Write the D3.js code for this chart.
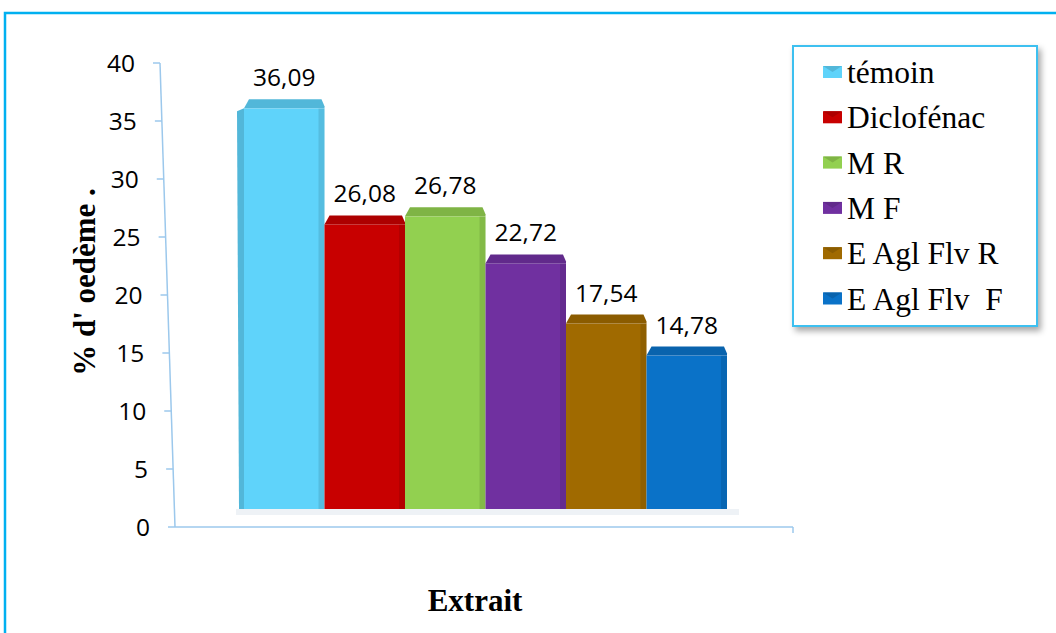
<!DOCTYPE html>
<html>
<head>
<meta charset="utf-8">
<script src="https://cdn.jsdelivr.net/npm/d3@7"></script>
<style>
  body { margin: 0; background: #fff; }
</style>
</head>
<body>
<div id="chart"></div>
<script>
// Data
const categories = ["témoin", "Diclofénac", "M R", "M F", "E Agl Flv R", "E Agl Flv  F"];
const values = [36.09, 26.08, 26.78, 22.72, 17.54, 14.78];
const labels = ["36,09", "26,08", "26,78", "22,72", "17,54", "14,78"];
const colors = ["#5fd3fa", "#c80000", "#92d050", "#7030a0", "#a06a00", "#0a72c8"];
const yTicks = [0, 5, 10, 15, 20, 25, 30, 35, 40];

const W = 1056, H = 633;

const svg = d3.select("#chart")
    .append("svg")
    .attr("width", W)
    .attr("height", H);

// outer frame
svg.append("rect")
    .attr("x", 5).attr("y", 13)
    .attr("width", 1100).attr("height", 700)
    .attr("fill", "none")
    .attr("stroke", "#00b0f0")
    .attr("stroke-width", 2.5);

// Scales
const y = d3.scaleLinear().domain([0, 40]).range([527, 63]);
const x = d3.scaleBand().domain(categories).range([244, 727]).padding(0);
const color = d3.scaleOrdinal().domain(categories).range(colors);

// slanted (perspective) y axis: x position for a value
const axisX = d3.scaleLinear().domain([40, 0]).range([160, 175]);
const axisColor = "#9cc8ec";

const axis = svg.append("g");
axis.append("line")
    .attr("x1", axisX(40)).attr("y1", y(40))
    .attr("x2", axisX(0)).attr("y2", y(0))
    .attr("stroke", axisColor).attr("stroke-width", 1.5);

const tick = axis.selectAll("g.tick")
    .data(yTicks)
    .enter().append("g")
    .attr("class", "tick");

tick.append("line")
    .attr("x1", d => axisX(d) - 7).attr("x2", d => axisX(d))
    .attr("y1", d => y(d)).attr("y2", d => y(d))
    .attr("stroke", axisColor).attr("stroke-width", 1.5);

tick.append("text")
    .attr("x", d => axisX(d) - 25)
    .attr("y", d => y(d))
    .attr("dy", "0.35em")
    .attr("text-anchor", "end")
    .attr("font-family", "Open Sans, sans-serif")
    .attr("font-size", 24.5)
    .attr("fill", "#000")
    .text(d => d);

// x axis
axis.append("line")
    .attr("x1", axisX(0)).attr("x2", 793)
    .attr("y1", y(0)).attr("y2", y(0))
    .attr("stroke", axisColor).attr("stroke-width", 1.5);
axis.append("line")
    .attr("x1", 793).attr("x2", 793)
    .attr("y1", y(0)).attr("y2", y(0) + 6)
    .attr("stroke", axisColor).attr("stroke-width", 1.5);

// floor shadow
const floorY = y(0) - 18;
svg.append("rect")
    .attr("x", x.range()[0] - 8).attr("y", floorY)
    .attr("width", x.range()[1] - x.range()[0] + 20).attr("height", 6)
    .attr("fill", "#eef2f6");

// bars with a simple 3D top
const depth = 9;
const bar = svg.append("g").selectAll("g.bar")
    .data(categories)
    .enter().append("g")
    .attr("class", "bar");

bar.append("rect")
    .attr("x", d => x(d))
    .attr("y", (d, i) => y(values[i]))
    .attr("width", x.bandwidth())
    .attr("height", (d, i) => floorY - y(values[i]))
    .attr("fill", d => color(d));

// right shading strip
bar.append("rect")
    .attr("x", d => x(d) + x.bandwidth() - 6)
    .attr("y", (d, i) => y(values[i]))
    .attr("width", 6)
    .attr("height", (d, i) => floorY - y(values[i]))
    .attr("fill", "#000")
    .attr("opacity", 0.1);

// top face
bar.append("path")
    .attr("d", (d, i) => {
        const x0 = x(d), x1 = x(d) + x.bandwidth(), t = y(values[i]);
        return `M${x0},${t} L${x0 + 5},${t - depth} L${x1 - 3},${t - depth} L${x1},${t - 2} L${x1},${t} Z`;
    })
    .attr("fill", d => d3.color(color(d)).darker(0.4));

// left side face for the first bar
svg.append("path")
    .attr("d", () => {
        const d = categories[0], t = y(values[0]);
        return `M${x(d)},${t} L${x(d) - 7},${t + 3} L${x(d) - 5},${floorY} L${x(d)},${floorY} Z`;
    })
    .attr("fill", d3.color(colors[0]).darker(0.4));

// value labels
bar.append("text")
    .attr("x", d => x(d) + x.bandwidth() / 2)
    .attr("y", (d, i) => y(values[i]) - 22)
    .attr("text-anchor", "middle")
    .attr("font-family", "Open Sans, sans-serif")
    .attr("font-size", 24.5)
    .attr("fill", "#000")
    .text((d, i) => labels[i]);

// axis titles
svg.append("text")
    .attr("transform", "translate(95,282) rotate(-90)")
    .attr("text-anchor", "middle")
    .attr("font-family", "Liberation Serif, Times New Roman, serif")
    .attr("font-weight", "bold")
    .attr("font-size", 31)
    .text("% d' oedème .");

svg.append("text")
    .attr("x", 475).attr("y", 611)
    .attr("text-anchor", "middle")
    .attr("font-family", "Liberation Serif, Times New Roman, serif")
    .attr("font-weight", "bold")
    .attr("font-size", 31)
    .text("Extrait");

// legend
const defs = svg.append("defs");
const filter = defs.append("filter").attr("id", "shadow")
    .attr("x", "-10%").attr("y", "-10%").attr("width", "130%").attr("height", "130%");
filter.append("feDropShadow")
    .attr("dx", 3).attr("dy", 4).attr("stdDeviation", 3)
    .attr("flood-color", "#000").attr("flood-opacity", 0.35);

const legend = svg.append("g");
legend.append("rect")
    .attr("x", 793).attr("y", 46)
    .attr("width", 244).attr("height", 280)
    .attr("fill", "#fff")
    .attr("stroke", "#3cc0f0")
    .attr("stroke-width", 2)
    .attr("filter", "url(#shadow)");

const item = legend.selectAll("g.item")
    .data(categories)
    .enter().append("g")
    .attr("class", "item")
    .attr("transform", (d, i) => `translate(823,${72 + i * 45.3})`);

item.append("rect")
    .attr("x", 0).attr("y", -6)
    .attr("width", 19).attr("height", 12)
    .attr("fill", d => color(d));
item.append("path")
    .attr("d", "M0,-6 L9.5,0 L19,-6 Z")
    .attr("fill", d => d3.color(color(d)).darker(0.4));

item.append("text")
    .attr("x", 24).attr("y", 0)
    .attr("dy", "0.35em")
    .attr("font-family", "Liberation Serif, Times New Roman, serif")
    .attr("font-size", 31.5)
    .attr("fill", "#000")
    .style("white-space", "pre")
    .text(d => d);
</script>
</body>
</html>
